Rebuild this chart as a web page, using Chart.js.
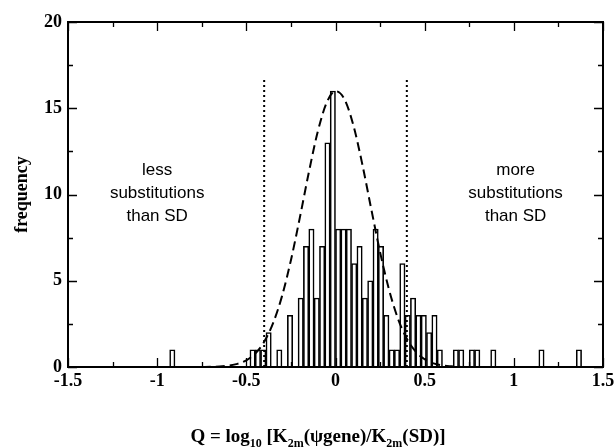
<!DOCTYPE html>
<html>
<head>
<meta charset="utf-8">
<script src="https://cdn.jsdelivr.net/npm/chart.js@4"></script>
<style>
  html, body { margin: 0; padding: 0; background: #fff; }
</style>
</head>
<body>
<canvas id="chart" width="616" height="448"></canvas>
<script>
// histogram bins (centre of each 0.03-wide bin that has a count)
const binCenters = [-0.915, -0.465, -0.435, -0.405, -0.375, -0.315, -0.255, -0.195, -0.165, -0.135,
  -0.105, -0.075, -0.045, -0.015, 0.015, 0.045, 0.075, 0.105, 0.135, 0.165,
  0.195, 0.225, 0.255, 0.285, 0.315, 0.345, 0.375, 0.405, 0.435, 0.465,
  0.495, 0.525, 0.555, 0.585, 0.675, 0.705, 0.765, 0.795, 0.885, 1.155, 1.365];
const binCounts = [1, 1, 1, 1, 2, 1, 3, 4, 7, 8,
  4, 7, 13, 16, 8, 8, 8, 6, 7, 4,
  5, 8, 7, 3, 1, 1, 6, 3, 4, 3,
  3, 2, 3, 1, 1, 1, 1, 1, 1, 1, 1];

// dashed fitted curve
const curveX = [-0.75, -0.7, -0.65, -0.6, -0.55, -0.5, -0.45, -0.4, -0.35, -0.3, -0.25, -0.2, -0.15, -0.1, -0.05,
  0, 0.05, 0.1, 0.15, 0.2, 0.25, 0.3, 0.35, 0.4, 0.45, 0.5, 0.55, 0.6, 0.65, 0.7];
const curveY = [0.0, 0.01, 0.03, 0.08, 0.18, 0.39, 0.78, 1.46, 2.54, 4.11, 6.19, 8.66, 11.26, 13.62, 15.31,
  15.99, 15.53, 14.02, 11.77, 9.18, 6.66, 4.49, 2.81, 1.64, 0.89, 0.45, 0.21, 0.09, 0.04, 0.01];

// dotted cut-off lines
const cutoffs = [-0.4, 0.4];
const cutoffTop = 16.8;

const xTickValues = [-1.5, -1, -0.5, 0, 0.5, 1, 1.5];
const xTickLabels = ['-1.5', '-1', '-0.5', '0', '0.5', '1', '1.5'];
const yTickLabels = ['0', '5', '10', '15', '20'];

const leftNote = ['less', 'substitutions', 'than SD'];
const rightNote = ['more', 'substitutions', 'than SD'];

const serifBold = { family: "'Liberation Serif', 'Times New Roman', serif", weight: 'bold', size: 18 };

const framePlugin = {
  id: 'frame',
  afterDatasetsDraw(chart) {
    const { ctx, chartArea: a, scales: { x, y } } = chart;
    ctx.save();
    ctx.strokeStyle = '#000';
    ctx.lineWidth = 2;
    ctx.strokeRect(a.left, a.top, a.right - a.left, a.bottom - a.top);
    ctx.lineWidth = 1.3;
    ctx.beginPath();
    for (let v = -1.5; v <= 1.5001; v += 0.25) {
      const px = Math.round(x.getPixelForValue(v)) + 0.5;
      const len = Math.abs(v * 2 - Math.round(v * 2)) < 1e-6 ? 9 : 5;
      ctx.moveTo(px, a.bottom); ctx.lineTo(px, a.bottom - len);
      ctx.moveTo(px, a.top); ctx.lineTo(px, a.top + len);
    }
    for (let v = 0; v <= 20.001; v += 2.5) {
      const py = Math.round(y.getPixelForValue(v)) + 0.5;
      const len = v % 5 === 0 ? 9 : 5;
      ctx.moveTo(a.left, py); ctx.lineTo(a.left + len, py);
      ctx.moveTo(a.right, py); ctx.lineTo(a.right - len, py);
    }
    ctx.stroke();
    ctx.restore();
  },
  afterDraw(chart) {
    const { ctx, scales: { x, y } } = chart;
    ctx.save();
    ctx.fillStyle = '#000';
    // annotations
    ctx.font = "17px 'Liberation Sans', Arial, sans-serif";
    ctx.textAlign = 'center';
    ctx.textBaseline = 'middle';
    const noteY = [11.42, 10.09, 8.75];
    leftNote.forEach((t, i) => ctx.fillText(t, x.getPixelForValue(-1.0), y.getPixelForValue(noteY[i])));
    rightNote.forEach((t, i) => ctx.fillText(t, x.getPixelForValue(1.01), y.getPixelForValue(noteY[i])));

    // x axis title with subscripts
    const big = "bold 19px 'Liberation Serif', 'Times New Roman', serif";
    const small = "bold 12px 'Liberation Serif', 'Times New Roman', serif";
    const parts = [
      ['Q = log', big, 0], ['10', small, 5], [' [K', big, 0], ['2m', small, 5],
      ['(\u03C8gene)/K', big, 0], ['2m', small, 5], ['(SD)]', big, 0]
    ];
    let w = 0;
    parts.forEach(p => { ctx.font = p[1]; w += ctx.measureText(p[0]).width; });
    let px = 318 - w / 2;
    ctx.textAlign = 'left';
    ctx.textBaseline = 'alphabetic';
    parts.forEach(p => {
      ctx.font = p[1];
      ctx.fillText(p[0], px, 442 + p[2]);
      px += ctx.measureText(p[0]).width;
    });
    ctx.restore();
  }
};

new Chart(document.getElementById('chart'), {
  type: 'bar',
  data: {
    datasets: [
      {
        type: 'line',
        data: curveX.map((v, i) => ({ x: v, y: curveY[i] })),
        borderColor: '#000',
        borderWidth: 2,
        borderDash: [9, 5],
        pointRadius: 0,
        cubicInterpolationMode: 'monotone',
        fill: false,
        order: 1
      },
      ...cutoffs.map(c => ({
        type: 'line',
        data: [{ x: c, y: 0 }, { x: c, y: cutoffTop }],
        borderColor: '#000',
        borderWidth: 2,
        borderDash: [2, 3],
        pointRadius: 0,
        fill: false,
        order: 2
      })),
      {
        type: 'bar',
        data: binCenters.map((v, i) => ({ x: v, y: binCounts[i] })),
        backgroundColor: '#fff',
        borderColor: '#000',
        borderWidth: 1.6,
        barPercentage: 1,
        categoryPercentage: 1,
        order: 3
      }
    ]
  },
  options: {
    responsive: false,
    animation: false,
    layout: { padding: { top: 22, right: 13, left: 0, bottom: 0 } },
    plugins: {
      legend: { display: false },
      tooltip: { enabled: false }
    },
    scales: {
      x: {
        type: 'linear',
        min: -1.5,
        max: 1.5,
        offset: false,
        grid: { display: false, drawTicks: false },
        border: { display: false },
        afterBuildTicks: s => { s.ticks = xTickValues.map(v => ({ value: v })); },
        ticks: {
          autoSkip: false,
          maxRotation: 0,
          padding: 4,
          color: '#000',
          font: serifBold,
          callback: (v, i) => xTickLabels[i]
        },
        afterFit: s => {
          s.height = 81;
          s.paddingLeft = 0; s.paddingRight = 0;
        }
      },
      y: {
        min: 0,
        max: 20,
        grid: { display: false, drawTicks: false },
        border: { display: false },
        ticks: {
          stepSize: 5,
          padding: 6,
          color: '#000',
          font: serifBold,
          callback: (v, i) => yTickLabels[i]
        },
        title: {
          display: true,
          text: 'frequency',
          color: '#000',
          font: serifBold,
          padding: { top: 12, bottom: 0 }
        },
        afterFit: s => {
          s.width = 68;
          s.paddingTop = 0; s.paddingBottom = 0;
        }
      }
    }
  },
  plugins: [framePlugin]
});
</script>
</body>
</html>
